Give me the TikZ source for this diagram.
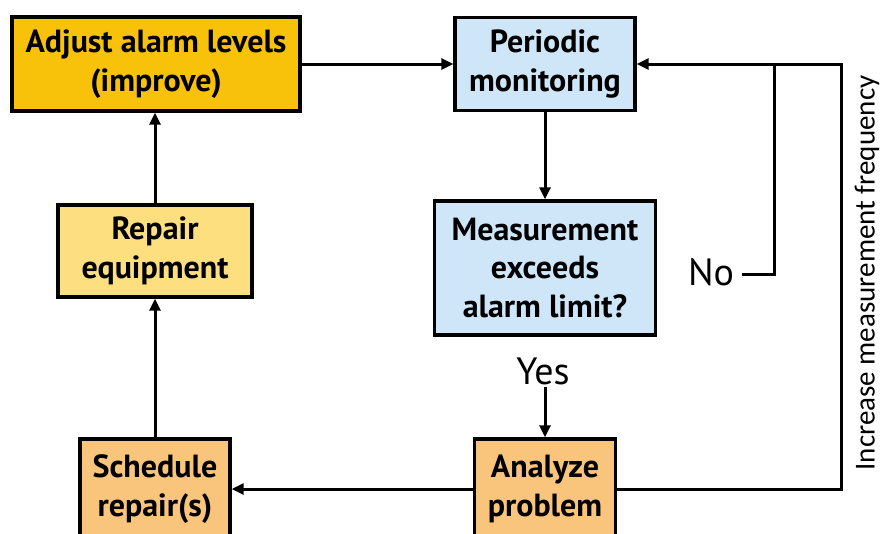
\documentclass[tikz,border=0pt]{standalone}
\usepackage{fontspec}
\setmainfont{PT Sans}
\newfontfamily\sidefont{Carlito}
\usetikzlibrary{arrows.meta}
\definecolor{goldfill}{HTML}{F8C20A}
\definecolor{bluefill}{HTML}{CFE5F8}
\definecolor{paleyellow}{HTML}{FDDF80}
\definecolor{orangefill}{HTML}{F9C57C}
\begin{document}
\begin{tikzpicture}[x=1pt,y=-1pt,
  box/.style={draw=black, line width=3.4pt, align=center, inner sep=0pt,
    font=\fontsize{32}{38.5}\selectfont\bfseries},
  line/.style={draw=black, line width=3pt},
  link/.style={line, -{Triangle[length=12pt,width=11pt]}},
  answer/.style={font=\fontsize{38}{40}\selectfont, inner sep=2pt}]
\useasboundingbox (0,0) rectangle (883,533);

% process boxes
\node[box, fill=goldfill, minimum width=288pt, minimum height=94pt] (adj) at (156,64)
  {Adjust alarm levels\\(improve)};
\node[box, fill=bluefill, minimum width=180pt, minimum height=93pt] (per) at (545,64)
  {Periodic\\monitoring};
\node[box, fill=bluefill, minimum width=221pt, minimum height=134pt] (meas) at (545,268)
  {Measurement\\exceeds\\alarm limit?};
\node[box, fill=paleyellow, minimum width=194pt, minimum height=92pt] (rep) at (155,251)
  {Repair\\equipment};
\node[box, fill=orangefill, minimum width=150pt, minimum height=100pt] (sch) at (155,489)
  {Schedule\\repair(s)};
\node[box, fill=orangefill, minimum width=141pt, minimum height=100pt] (ana) at (545,489)
  {Analyze\\problem};

% decision labels
\node[answer] (no) at (711,272) {No};
\node[answer] (yes) at (543,371) {Yes};

% side label of the feedback loop
\node[rotate=90, inner sep=0pt, font=\sidefont\fontsize{29}{29}\selectfont] (freq)
  at (867,273) {Increase measurement frequency};

% connectors
\coordinate (nturn) at (774,274);
\coordinate (rturn) at (841,489);

\draw[link] (adj.east) -- (per.west);
\draw[link] (per.south) -- (meas.north);
\draw[line] ([xshift=6pt]no.east |- nturn) -- (nturn) -- (nturn |- per.east);
\draw[link] (ana.east) -- (rturn) -- (rturn |- per.east) -- (per.east);
\draw[link] (ana.north |- yes.south) -- (ana.north);
\draw[link] (ana.west) -- (sch.east);
\draw[link] (sch.north) -- (rep.south);
\draw[link] (rep.north) -- (rep.north |- adj.south);
\end{tikzpicture}
\end{document}
